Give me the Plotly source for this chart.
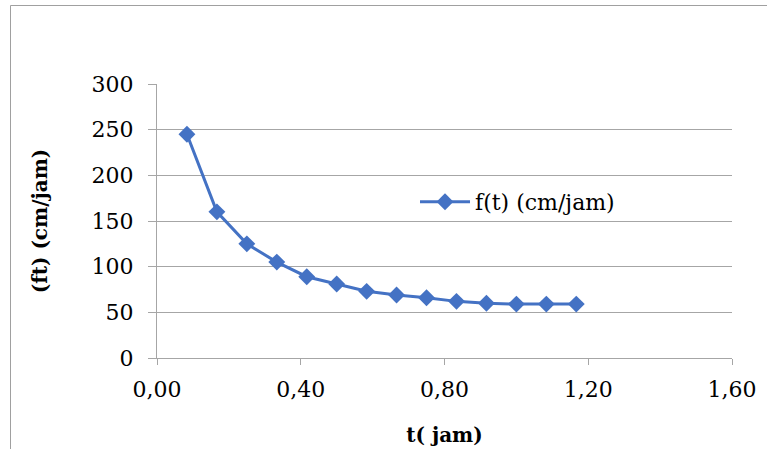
import plotly.graph_objects as go

t_jam = [1/12, 2/12, 3/12, 4/12, 5/12, 6/12, 7/12, 8/12, 9/12, 10/12, 11/12, 12/12, 13/12, 14/12]
ft_values = [245, 160, 125, 105, 89, 81, 73, 69, 66, 62, 60, 59, 59, 59]
series_name = "f(t) (cm/jam)"
x_ticks = [0, 0.4, 0.8, 1.2, 1.6]
y_ticks = [0, 50, 100, 150, 200, 250, 300]

BLUE = "#4472C4"
GRID = "#A6A6A6"
FONT = "DejaVu Serif"

fig = go.Figure()
fig.add_trace(go.Scatter(
    x=t_jam, y=ft_values, mode="lines+markers", name=series_name,
    line=dict(color=BLUE, width=3),
    marker=dict(symbol="diamond", size=13, color=BLUE),
))

W, H = 767, 449
L, R, T, B = 157, 35, 84, 91
pw, ph = W - L - R, H - T - B

def px_x(px):
    return (px - L) / pw

def px_y(py):
    return (H - B - py) / ph

fig.update_layout(
    width=W, height=H,
    margin=dict(l=L, r=R, t=T, b=B),
    paper_bgcolor="white", plot_bgcolor="white",
    font=dict(family=FONT, size=22, color="black"),
    separators=", ",
    showlegend=True,
    legend=dict(x=px_x(415), y=px_y(202), xanchor="left", yanchor="middle",
                itemwidth=50,
                bgcolor="rgba(0,0,0,0)", font=dict(size=22, family=FONT)),
    xaxis=dict(
        range=[0, 1.6], tickvals=x_ticks, tickformat=".2f", automargin=False,
        showgrid=False, zeroline=False, showline=True, linecolor=GRID, linewidth=1,
        ticks="outside", ticklen=6, tickcolor=GRID, ticklabelstandoff=6,
        tickfont=dict(family=FONT, size=22),
        title=dict(text="<b>t( jam)</b>", font=dict(size=20, family=FONT), standoff=26),
    ),
    yaxis=dict(
        range=[0, 300], tickvals=y_ticks, automargin=False,
        showgrid=True, gridcolor=GRID, gridwidth=1, zeroline=False,
        showline=True, linecolor=GRID, linewidth=1,
        ticks="outside", ticklen=8, tickcolor=GRID, ticklabelstandoff=10,
        tickfont=dict(family=FONT, size=22),
        title=dict(text="<b>(ft) (cm/jam)</b>", font=dict(size=20, family=FONT), standoff=38),
    ),
    shapes=[dict(type="rect", xref="paper", yref="paper",
                 x0=px_x(10.5), x1=px_x(800), y0=px_y(500), y1=px_y(5.5),
                 line=dict(color="#A0A0A0", width=1), fillcolor="rgba(0,0,0,0)", layer="below")],
)

fig.write_html("out.html")
